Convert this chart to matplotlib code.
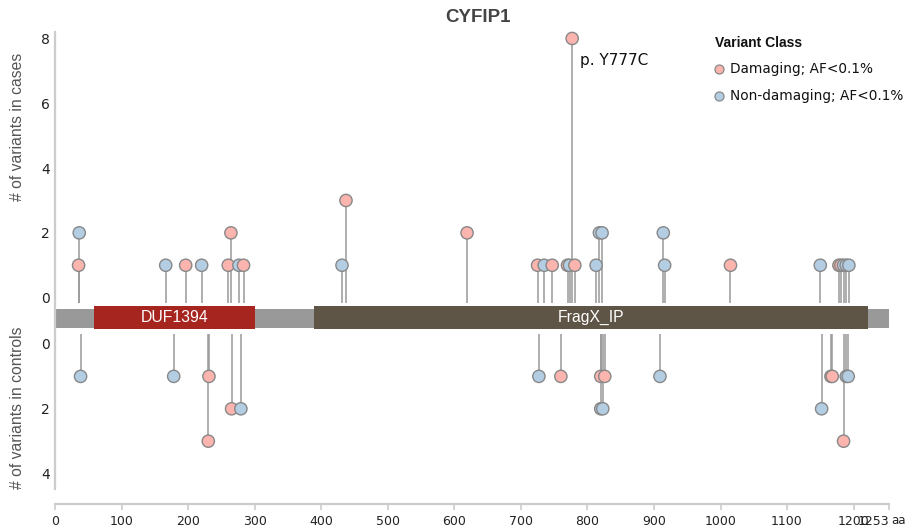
import matplotlib
matplotlib.use("Agg")
import matplotlib.pyplot as plt
import numpy as np

PROTEIN = "CYFIP1"
PROTEIN_LEN = 1253

DOMAIN_NAMES = ["DUF1394", "FragX_IP"]
DOMAIN_START = [58, 389]
DOMAIN_END = [300, 1222]

# variants seen in cases (above the protein)
CASE_POS = [35, 36, 166, 196, 220, 260, 264, 276, 283, 431, 437, 619, 725, 735,
            747, 770, 773, 777, 781, 813, 818, 822, 914, 916, 1015, 1150, 1178,
            1181, 1185, 1189, 1193]
CASE_COUNT = [1, 2, 1, 1, 1, 1, 2, 1, 1, 1, 3, 2, 1, 1,
              1, 1, 1, 8, 1, 1, 2, 2, 2, 1, 1, 1, 1,
              1, 1, 1, 1]
CASE_CLASS = ["D", "N", "N", "D", "N", "D", "D", "N", "D", "N", "D", "D", "D", "N",
              "D", "D", "N", "D", "D", "N", "N", "N", "N", "N", "D", "N", "D",
              "D", "N", "N", "N"]

# variants seen in controls (below the protein)
CTRL_POS = [38, 178, 230, 231, 265, 279, 727, 760, 820, 820, 823, 826, 909,
            1152, 1166, 1168, 1185, 1189, 1192]
CTRL_COUNT = [1, 1, 3, 1, 2, 2, 1, 1, 1, 2, 2, 1, 1,
              2, 1, 1, 3, 1, 1]
CTRL_CLASS = ["N", "N", "D", "D", "D", "N", "N", "D", "D", "N", "N", "D", "N",
              "N", "D", "D", "D", "N", "N"]

HIGHLIGHT = (777, 8, "p. Y777C")

CLASS_LABELS = {"D": "Damaging; AF<0.1%", "N": "Non-damaging; AF<0.1%"}
CLASS_COLORS = {"D": "#fbb4ae", "N": "#b3cde3"}
DOMAIN_COLORS = ["#a6261f", "#5f5546"]

CASE_TICKS = [0, 2, 4, 6, 8]
CTRL_TICKS = [0, 2, 4]

# layout of the shared y axis: controls are drawn below an offset
CTRL_ZERO = -1.43
STEM_TOP_START = -0.16
STEM_BOT_START = -1.12


def main() -> None:
    fig = plt.figure(figsize=(9.05, 5.27), dpi=100)
    ax = fig.add_axes([0.0611, 0.0442, 0.9210, 0.8951])
    ax.set_xlim(0, PROTEIN_LEN)
    ax.set_ylim(-6.36, 8.2)

    # backbone + domains
    ax.barh(-0.64, PROTEIN_LEN, left=0, height=0.58, color="#999999", zorder=1)
    for name, s, e, c in zip(DOMAIN_NAMES, DOMAIN_START, DOMAIN_END, DOMAIN_COLORS):
        ax.barh(-0.62, e - s, left=s, height=0.72, color=c, zorder=1.5)
        ax.text((s + e) / 2, -0.62, name, color="white", ha="center", va="center",
                fontsize=11.3, family="Liberation Sans", zorder=2)

    # stems
    case_y = np.array(CASE_COUNT, dtype=float)
    ctrl_y = CTRL_ZERO - np.array(CTRL_COUNT, dtype=float)
    ax.vlines(CASE_POS, STEM_TOP_START, case_y, color="#999999", lw=1.1, zorder=2)
    ax.vlines(CTRL_POS, STEM_BOT_START, ctrl_y, color="#999999", lw=1.1, zorder=2)

    # heads
    ax.scatter(CASE_POS, case_y, s=78, c=[CLASS_COLORS[k] for k in CASE_CLASS],
               edgecolors="#888888", linewidths=1.0, zorder=3, clip_on=False)
    ax.scatter(CTRL_POS, ctrl_y, s=78, c=[CLASS_COLORS[k] for k in CTRL_CLASS],
               edgecolors="#888888", linewidths=1.0, zorder=3, clip_on=False)

    hx, hy, htxt = HIGHLIGHT
    ax.annotate(htxt, (hx, hy), xytext=(6, -16), textcoords="offset points",
                ha="left", va="center", fontsize=11, color="#111111")

    # axes styling
    for side in ["top", "right"]:
        ax.spines[side].set_visible(False)
    ax.spines["left"].set_color("#cccccc")
    ax.spines["left"].set_linewidth(1.6)
    ax.spines["left"].set_bounds(-5.9, 8.2)
    ax.spines["bottom"].set_color("#cccccc")
    ax.spines["bottom"].set_linewidth(1.6)

    yt = CASE_TICKS + [CTRL_ZERO - t for t in CTRL_TICKS]
    ax.set_yticks(yt)
    ax.set_yticklabels([str(t) for t in CASE_TICKS + CTRL_TICKS])
    ax.tick_params(axis="y", length=0, pad=4, labelsize=10, labelcolor="#222222")

    xt = list(range(0, 1201, 100)) + [PROTEIN_LEN]
    ax.set_xticks(xt)
    ax.set_xticklabels([str(t) for t in xt])
    ax.tick_params(axis="x", length=4, width=1.2, color="#cccccc", pad=4,
                   labelsize=9, labelcolor="#222222")
    ax.get_xticklabels()[-1].set_horizontalalignment("right")

    fig.text(891 / 905, 1 - 520 / 527, "aa", ha="left", va="center",
             fontsize=8.5, color="#222222")

    fig.text(18 / 905, 1 - 127 / 527, "# of variants in cases", rotation=90,
             ha="center", va="center", fontsize=11.3, color="#555555",
             family="Liberation Sans")
    fig.text(18 / 905, 1 - 408 / 527, "# of variants in controls", rotation=90,
             ha="center", va="center", fontsize=11.3, color="#555555",
             family="Liberation Sans")

    fig.text(478 / 905, 1 - 18 / 527, PROTEIN, ha="center", va="center",
             fontsize=13.5, weight="bold", color="#444444", family="Liberation Sans")

    # legend drawn by hand to mimic the original layout
    fig.text(715 / 905, 1 - 43 / 527, "Variant Class", ha="left", va="center",
             fontsize=10, weight="bold", color="#111111", family="Liberation Sans")
    for i, k in enumerate(["D", "N"]):
        y = 1 - (69 + 27 * i) / 527
        fig.lines.append(plt.Line2D([719 / 905], [y], marker="o", markersize=6.5,
                                    markerfacecolor=CLASS_COLORS[k],
                                    markeredgecolor="#888888", markeredgewidth=0.9,
                                    transform=fig.transFigure, figure=fig))
        fig.text(730 / 905, y, CLASS_LABELS[k], ha="left", va="center",
                 fontsize=9.8, color="#111111")

    fig.savefig("out.png", dpi=100)


if __name__ == "__main__":
    main()
